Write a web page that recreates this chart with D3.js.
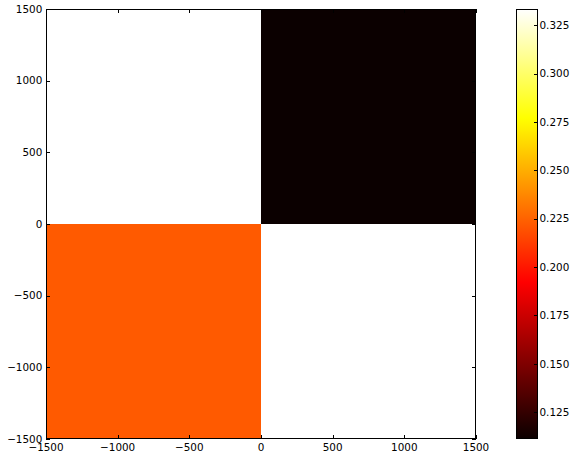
<!DOCTYPE html>
<html><head><meta charset="utf-8">
<script src="https://cdn.jsdelivr.net/npm/d3@7"></script>
<style>body{margin:0;background:#fff}svg{display:block}text{font-family:"DejaVu Sans",sans-serif;font-size:10.4px;fill:#000}</style>
</head><body><svg id="c" width="572" height="454"></svg>
<script>
// Data
const xEdges = [-1500, 0, 1500];
const yEdges = [-1500, 0, 1500];
// rows from bottom (y -1500..0) to top (0..1500); columns left to right
const cellValues = [
  [2/9, 1/3],
  [1/3, 1/9]
];
const axisTicks = [-1500, -1000, -500, 0, 500, 1000, 1500];
const cbarTicks = [0.125, 0.150, 0.175, 0.200, 0.225, 0.250, 0.275, 0.300, 0.325];
const vmin = 1/9, vmax = 1/3;

// matplotlib "hot" colormap
const hotStops = [0, 0.365079, 0.746032, 1];
function hot(t){
  t = Math.max(0, Math.min(1, t));
  const r = d3.scaleLinear().domain([0, 0.365079, 1]).range([0.0416, 1, 1]).clamp(true)(t);
  const g = d3.scaleLinear().domain([0, 0.365079, 0.746032, 1]).range([0, 0, 1, 1]).clamp(true)(t);
  const b = d3.scaleLinear().domain([0, 0.746032, 1]).range([0, 0, 1]).clamp(true)(t);
  return d3.rgb(r*255, g*255, b*255).formatHex();
}

const svg = d3.select("#c");
const L = 46, R = 476, T = 9, B = 439;
const x = d3.scaleLinear().domain([-1500, 1500]).range([L, R]);
const y = d3.scaleLinear().domain([-1500, 1500]).range([B, T]);
const norm = d3.scaleLinear().domain([vmin, vmax]).range([0, 1]);

const cells = [];
cellValues.forEach((row, i) => row.forEach((v, j) => cells.push({i, j, v})));
svg.append("g").selectAll("rect").data(cells).join("rect")
  .attr("x", d => x(xEdges[d.j]))
  .attr("width", d => x(xEdges[d.j+1]) - x(xEdges[d.j]))
  .attr("y", d => y(yEdges[d.i+1]))
  .attr("height", d => y(yEdges[d.i]) - y(yEdges[d.i+1]))
  .attr("fill", d => hot(norm(d.v)))
  .attr("shape-rendering", "crispEdges");

const fmt = v => (v < 0 ? "\u2212" : "") + Math.abs(v);
const ax = svg.append("g").attr("stroke", "#000").attr("stroke-width", 1);
// ticks inward on all four sides
axisTicks.forEach(t => {
  const px = Math.round(x(t)) + 0.5, py = Math.round(y(t)) + 0.5;
  ax.append("line").attr("x1", px).attr("x2", px).attr("y1", B).attr("y2", B - 4);
  ax.append("line").attr("x1", px).attr("x2", px).attr("y1", T).attr("y2", T + 4);
  ax.append("line").attr("y1", py).attr("y2", py).attr("x1", L).attr("x2", L + 4);
  ax.append("line").attr("y1", py).attr("y2", py).attr("x1", R).attr("x2", R - 4);
});
svg.append("rect").attr("x", L + 0.5).attr("y", T + 0.5).attr("width", R - L - 1).attr("height", B - T - 1)
  .attr("fill", "none").attr("stroke", "#000").attr("stroke-width", 1);

svg.append("g").selectAll("text").data(axisTicks).join("text")
  .attr("x", d => x(d)).attr("y", B + 11.5).attr("text-anchor", "middle").text(fmt);
svg.append("g").selectAll("text").data(axisTicks).join("text")
  .attr("x", L - 3.7).attr("y", d => y(d) + 3.8).attr("text-anchor", "end").text(fmt);

// colorbar
const CL = 516, CR = 538;
const cy = d3.scaleLinear().domain([vmin, vmax]).range([B, T]);
const grad = svg.append("defs").append("linearGradient").attr("id", "hotg")
  .attr("x1", 0).attr("y1", 1).attr("x2", 0).attr("y2", 0);
d3.range(0, 1.0001, 0.02).concat(hotStops).sort(d3.ascending).forEach(t => {
  grad.append("stop").attr("offset", t).attr("stop-color", hot(t));
});
svg.append("rect").attr("x", CL).attr("y", T).attr("width", CR - CL).attr("height", B - T).attr("fill", "url(#hotg)");
const cb = svg.append("g").attr("stroke", "#000");
cbarTicks.forEach(t => {
  const py = Math.round(cy(t)) + 0.5;
  cb.append("line").attr("x1", CR).attr("x2", CR - 4).attr("y1", py).attr("y2", py);
});
svg.append("rect").attr("x", CL + 0.5).attr("y", T + 0.5).attr("width", CR - CL - 1).attr("height", B - T - 1)
  .attr("fill", "none").attr("stroke", "#000");
svg.append("g").selectAll("text").data(cbarTicks).join("text")
  .attr("x", CR + 1.5).attr("y", d => cy(d) + 3.8).text(d => d.toFixed(3));
</script></body></html>
